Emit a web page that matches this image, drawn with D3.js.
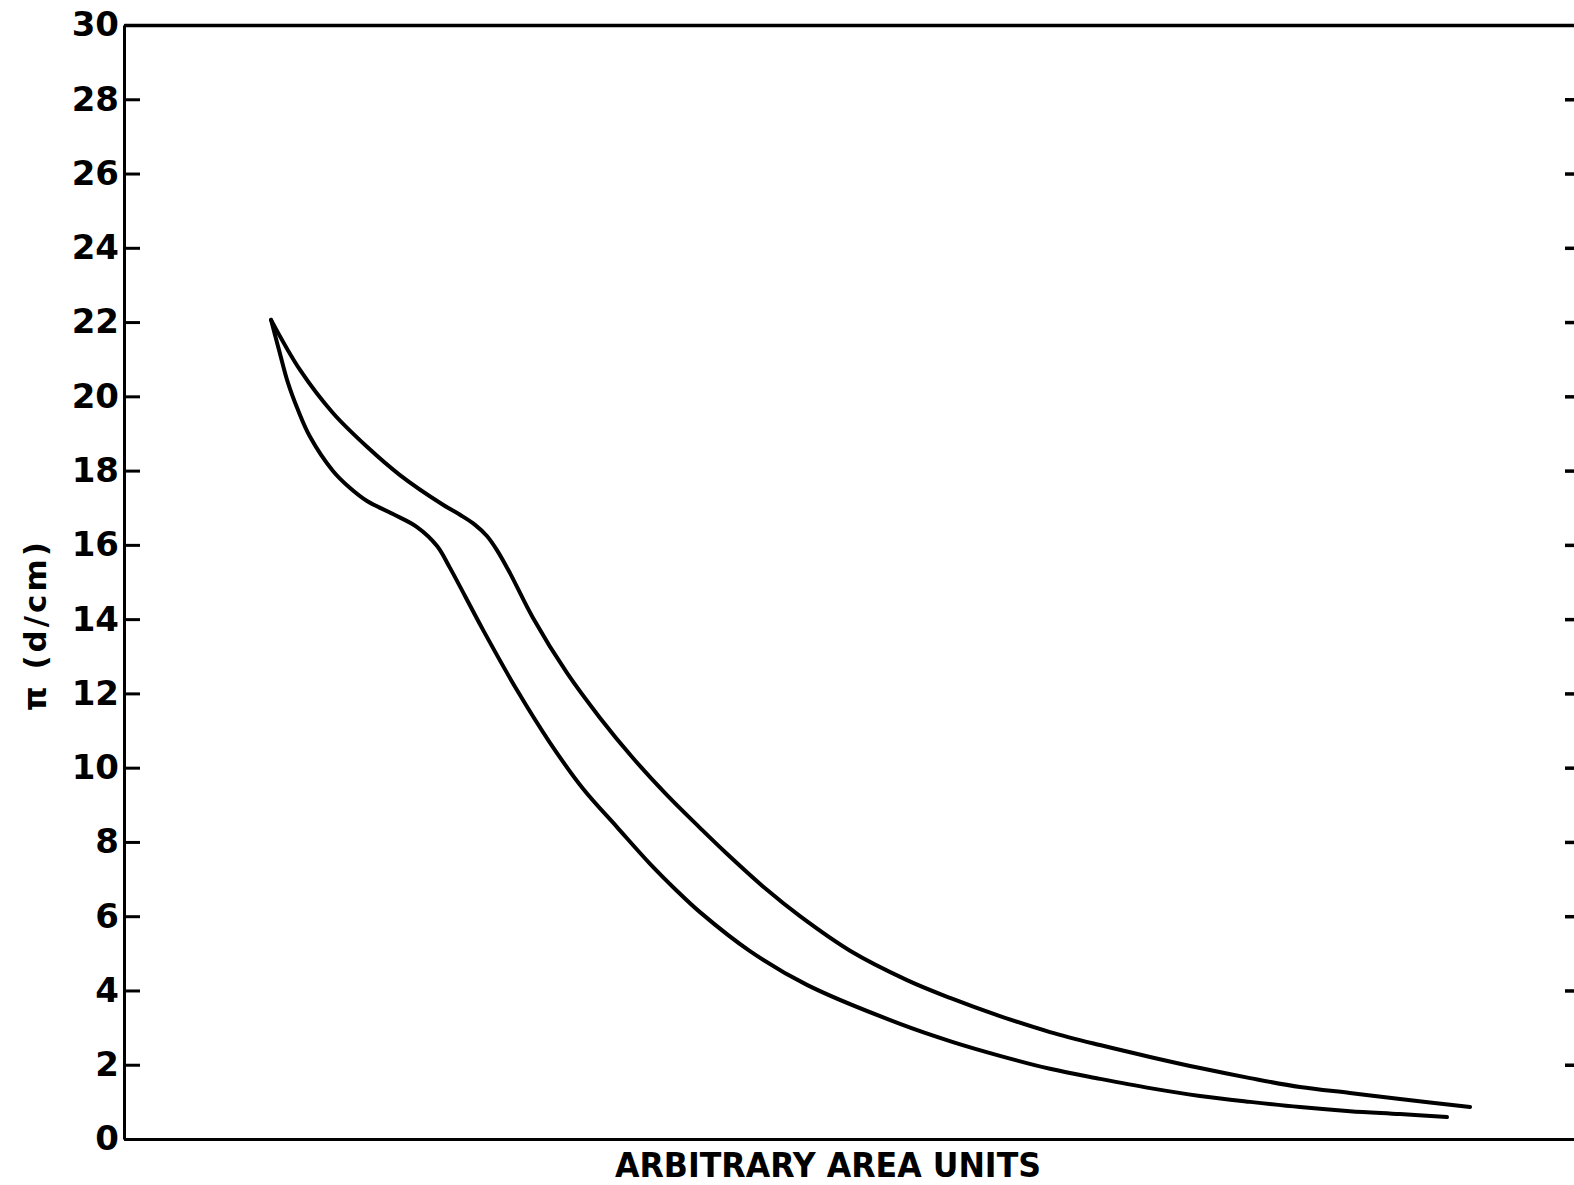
<!DOCTYPE html>
<html>
<head>
<meta charset="utf-8">
<script src="https://cdn.jsdelivr.net/npm/d3@7"></script>
<style>
  html, body { margin: 0; padding: 0; background: #fff; }
  svg { display: block; }
</style>
</head>
<body>
<svg id="chart" width="1574" height="1185"></svg>
<script>
// Surface pressure (d/cm) against area, arbitrary units.
// Two traces of the isotherm loop; both start from the same high-pressure point.
const upperArea = [10.14, 12.14, 14.41, 16.76, 19.03, 22.00, 23.17, 24.21, 25.03, 25.72,
  26.62, 28.21, 30.55, 32.83, 35.10, 37.45, 39.72, 41.45, 44.34, 46.62,
  50.07, 54.00, 56.97, 60.41, 63.86, 67.31, 70.76, 74.21, 77.66, 81.10,
  84.55, 88.00, 92.83];
const upperPressure = [22.06, 20.71, 19.55, 18.64, 17.88, 17.08, 16.81, 16.54, 16.24, 15.86,
  15.24, 14.03, 12.55, 11.34, 10.26, 9.26, 8.38, 7.73, 6.71, 6.00,
  5.07, 4.28, 3.80, 3.31, 2.88, 2.53, 2.21, 1.91, 1.64, 1.40,
  1.24, 1.08, 0.86];

const lowerArea = [10.14, 10.69, 11.31, 12.00, 12.83, 14.41, 15.59, 16.76, 18.55, 20.21,
  21.59, 22.48, 24.76, 27.10, 29.38, 31.66, 34.00, 36.28, 38.14, 39.72,
  43.17, 47.10, 53.52, 57.17, 60.41, 63.86, 67.31, 70.76, 74.21, 77.66,
  81.10, 84.55, 88.00, 91.24];
const lowerPressure = [22.06, 21.25, 20.36, 19.63, 18.91, 17.99, 17.53, 17.18, 16.83, 16.48,
  15.97, 15.38, 13.71, 12.09, 10.67, 9.43, 8.40, 7.41, 6.68, 6.11,
  5.06, 4.15, 3.10, 2.61, 2.24, 1.89, 1.62, 1.37, 1.16, 1.00,
  0.86, 0.75, 0.67, 0.59];

const pressureTicks = [0, 2, 4, 6, 8, 10, 12, 14, 16, 18, 20, 22, 24, 26, 28, 30];
const xTitle = "ARBITRARY AREA UNITS";
const yTitle = "\u03C0 (d/cm)";

const svg = d3.select("#chart");
const plotLeft = 124, plotRight = 1574, plotTop = 25, plotBottom = 1139;

const x = d3.scaleLinear().domain([0, 100]).range([plotLeft, plotRight]);
const y = d3.scaleLinear().domain([0, 30]).range([plotBottom, plotTop]);

const ink = "#000";
const tickFont = "DejaVu Sans, Verdana, sans-serif";

// Left axis: ticks point into the plot, labels outside
const yAxis = svg.append("g")
  .attr("transform", `translate(${plotLeft},0)`)
  .call(d3.axisLeft(y).tickValues(pressureTicks).tickFormat(d3.format("d"))
    .tickSizeInner(-16).tickSizeOuter(0).tickPadding(5));
yAxis.select(".domain").attr("stroke", ink).attr("stroke-width", 3);
yAxis.selectAll(".tick line").attr("stroke", ink).attr("stroke-width", 3);
yAxis.selectAll(".tick text")
  .attr("fill", ink)
  .style("font-family", tickFont)
  .style("font-weight", "bold")
  .style("font-size", "34px");

// Right side ticks (axis line itself sits just past the edge)
const yAxisRight = svg.append("g")
  .attr("transform", `translate(${plotRight + 6},0)`)
  .call(d3.axisLeft(y).tickValues(pressureTicks.filter(v => v > 0 && v < 30))
    .tickFormat("").tickSizeInner(15).tickSizeOuter(0));
yAxisRight.select(".domain").remove();
yAxisRight.selectAll(".tick line").attr("stroke", ink).attr("stroke-width", 3.5);

// Top and bottom frame lines
const xAxisBottom = svg.append("g")
  .attr("transform", `translate(0,${plotBottom})`)
  .call(d3.axisBottom(x).tickValues([]).tickSizeOuter(0));
xAxisBottom.select(".domain").attr("stroke", ink).attr("stroke-width", 3);

const xAxisTop = svg.append("g")
  .attr("transform", `translate(0,${plotTop})`)
  .call(d3.axisTop(x).tickValues([]).tickSizeOuter(0));
xAxisTop.select(".domain").attr("stroke", ink).attr("stroke-width", 3.5);

// Curves
const line = d3.line()
  .x(d => x(d[0]))
  .y(d => y(d[1]))
  .curve(d3.curveCatmullRom.alpha(0.5));

const upper = d3.zip(upperArea, upperPressure);
const lower = d3.zip(lowerArea, lowerPressure);

svg.append("g")
  .selectAll("path")
  .data([upper, lower])
  .join("path")
  .attr("d", line)
  .attr("fill", "none")
  .attr("stroke", ink)
  .attr("stroke-width", 4)
  .attr("stroke-linecap", "round")
  .attr("stroke-linejoin", "round");

// Axis titles
svg.append("text")
  .attr("x", 828)
  .attr("y", 1177)
  .attr("text-anchor", "middle")
  .attr("textLength", 426)
  .attr("lengthAdjust", "spacingAndGlyphs")
  .style("font-family", tickFont)
  .style("font-weight", "bold")
  .style("font-size", "33px")
  .attr("fill", ink)
  .text(xTitle);

svg.append("text")
  .attr("transform", "translate(46,625) rotate(-90)")
  .attr("text-anchor", "middle")
  .style("font-family", tickFont)
  .style("font-weight", "bold")
  .style("font-size", "31px")
  .style("letter-spacing", "3px")
  .attr("fill", ink)
  .text(yTitle);
</script>
</body>
</html>
